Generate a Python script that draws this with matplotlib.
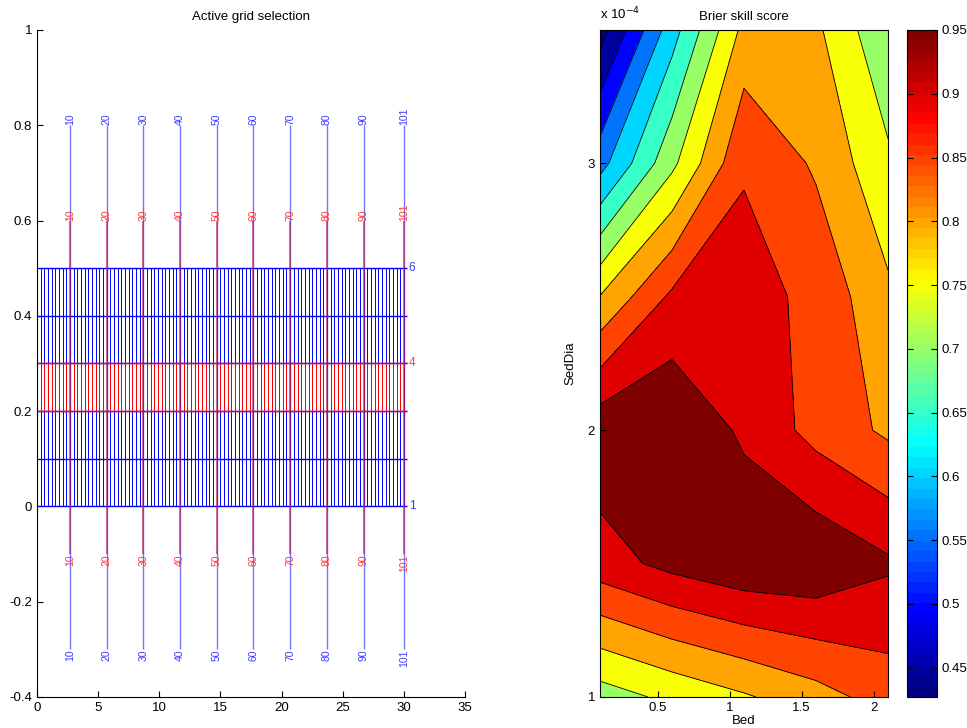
import numpy as np
import matplotlib
matplotlib.use('Agg')
import matplotlib.pyplot as plt
from matplotlib.colors import Normalize, LinearSegmentedColormap
from matplotlib.cm import ScalarMappable
from matplotlib.ticker import FormatStrFormatter, FuncFormatter

plt.rcParams['font.family'] = ['Liberation Sans', 'DejaVu Sans']
plt.rcParams['axes.unicode_minus'] = False

# --- active grid selection (left panel) ---
n_cols = 101
n_rows = 6
dx = 0.3
dy = 0.1
active_rows = [3, 4]
label_cols = [10, 20, 30, 40, 50, 60, 70, 80, 90, 101]
row_labels = [1, 4, 6]

# --- brier skill score (right panel) ---
bed = [0.1, 0.6, 1.1, 1.6, 2.1]
sed_dia = [1.0e-4, 1.5e-4, 2.0e-4, 2.5e-4, 3.0e-4, 3.5e-4]
bss = [
    [0.676, 0.712, 0.744, 0.780, 0.822],
    [0.878, 0.915, 0.940, 0.942, 0.908],
    [0.935, 0.945, 0.891, 0.833, 0.791],
    [0.752, 0.860, 0.870, 0.837, 0.760],
    [0.531, 0.688, 0.845, 0.793, 0.710],
    [0.378, 0.578, 0.765, 0.760, 0.656],
]
levels = [0.30, 0.40, 0.45, 0.50, 0.55, 0.60, 0.65, 0.70, 0.75, 0.80, 0.85, 0.90, 0.96]
cbar_ticks = [0.45, 0.5, 0.55, 0.6, 0.65, 0.7, 0.75, 0.8, 0.85, 0.9, 0.95]
cbar_range = (0.427, 0.95)

# matlab style jet, 64 colours
jet_nodes = [(0, (0, 0, 0.5)), (1 / 8, (0, 0, 1)), (3 / 8, (0, 1, 1)),
             (5 / 8, (1, 1, 0)), (7 / 8, (1, 0, 0)), (1, (0.5, 0, 0))]
cmap = LinearSegmentedColormap.from_list('mjet', jet_nodes, N=64)

fig = plt.figure(figsize=(9.67, 7.28), dpi=100)
ax1 = fig.add_axes([0.0383, 0.0426, 0.4426, 0.9162])
ax2 = fig.add_axes([0.6205, 0.0426, 0.2978, 0.9162])
cax = fig.add_axes([0.938, 0.0426, 0.031, 0.9162])

fs = 9.5

# left panel
x = (np.arange(1, n_cols + 1) - 1) * dx
y_rows = (np.arange(1, n_rows + 1) - 1) * dy
x_end = x[-1] + 0.25
ya = y_rows[active_rows[0] - 1]
yb = y_rows[active_rows[1] - 1]

ax1.vlines(x, y_rows[0], y_rows[-1], colors='blue', lw=0.7)
ax1.hlines(y_rows, 0, x_end, colors='blue', lw=1.0)
ax1.vlines(x, ya, yb, colors='red', lw=0.7)
ax1.hlines([ya, yb], 0, x_end, colors='red', lw=1.0)

xs = x[np.array(label_cols) - 1]
ax1.vlines(xs, -0.3, 0.8, colors='blue', alpha=0.55, lw=1.0)
ax1.vlines(xs, -0.1, 0.6, colors='#c02050', alpha=0.8, lw=1.1)
blue_txt = '#3a3aff'
red_txt = '#ff3a3a'
for xi, lab in zip(xs, label_cols):
    ax1.text(xi, 0.8, str(lab), rotation=90, ha='center', va='bottom', color=blue_txt, fontsize=7.5)
    ax1.text(xi, -0.3, str(lab), rotation=90, ha='center', va='top', color=blue_txt, fontsize=7.5)
    ax1.text(xi, 0.6, str(lab), rotation=90, ha='center', va='bottom', color=red_txt, fontsize=7.5)
    ax1.text(xi, -0.1, str(lab), rotation=90, ha='center', va='top', color=red_txt, fontsize=7.5)
for r in row_labels:
    col = red_txt if r in active_rows else blue_txt
    ax1.text(x_end + 0.15, y_rows[r - 1], str(r), ha='left', va='center', color=col, fontsize=8.5)

ax1.set_xlim(0, 35)
ax1.set_ylim(-0.4, 1)
ax1.set_xticks(np.arange(0, 36, 5))
ax1.set_yticks(np.arange(-0.4, 1.01, 0.2))
ax1.yaxis.set_major_formatter(FuncFormatter(lambda v, p: '%g' % round(v, 2)))
ax1.spines['top'].set_visible(False)
ax1.spines['right'].set_visible(False)
ax1.tick_params(direction='in', length=4, labelsize=fs)
ax1.set_title('Active grid selection', fontsize=fs, pad=7)

# right panel
norm = Normalize(*cbar_range)
fill_colors = [cmap(norm(v)) for v in levels[1:]]
X, Y = np.meshgrid(bed, sed_dia)
Z = np.array(bss)
ax2.contourf(X, Y, Z, levels=levels, colors=fill_colors)
ax2.contour(X, Y, Z, levels=levels[1:-1], colors='k', linewidths=0.6)
ax2.set_xlim(bed[0], bed[-1])
ax2.set_ylim(sed_dia[0], sed_dia[-1])
ax2.set_xticks([0.5, 1, 1.5, 2])
ax2.set_yticks([1e-4, 2e-4, 3e-4])
ax2.xaxis.set_major_formatter(FuncFormatter(lambda v, p: '%g' % v))
ax2.yaxis.set_major_formatter(FuncFormatter(lambda v, p: '%g' % round(v * 1e4, 3)))
ax2.tick_params(direction='in', length=4, labelsize=fs)
ax2.set_xlabel('Bed', fontsize=fs, labelpad=1)
ax2.set_ylabel('SedDia', fontsize=fs, labelpad=8)
ax2.set_title('Brier skill score', fontsize=fs, pad=7)
ax2.text(0.0, 1.012, r'x 10$^{-4}$', transform=ax2.transAxes, ha='left', va='bottom', fontsize=fs)

# colorbar
cb = fig.colorbar(ScalarMappable(norm=norm, cmap=cmap), cax=cax, ticks=cbar_ticks)
cb.ax.yaxis.set_major_formatter(FormatStrFormatter('%g'))
cb.ax.tick_params(direction='in', left=True, right=True, length=4, labelsize=fs)

fig.savefig('out.png', dpi=100)
